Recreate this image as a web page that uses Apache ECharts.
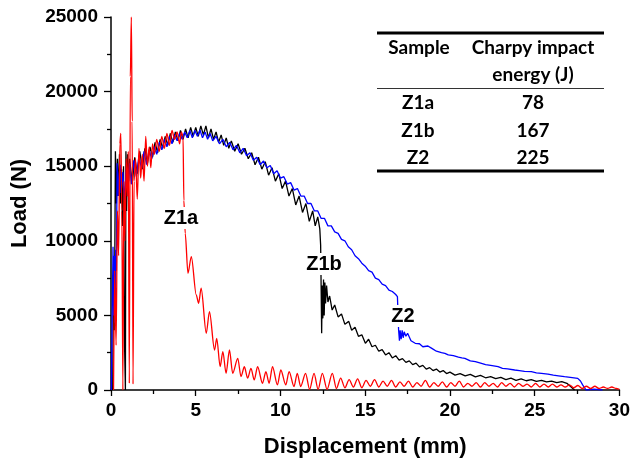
<!DOCTYPE html>
<html>
<head>
<meta charset="utf-8">
<script src="https://cdn.jsdelivr.net/npm/echarts@6/dist/echarts.min.js"></script>
<style>html,body{margin:0;padding:0;background:#fff}#c{width:633px;height:463px}</style>
</head>
<body>
<div id="c"></div>
<script>
// [displacement (mm), load (N)]
var z1aData = [[0.15,0],[0.22,8000],[0.3,3000],[0.38,12000],[0.45,9000],[0.52,16500],[0.58,17200],[0.64,12000],[0.7,0],[0.76,14000],[0.82,10000],[0.9,15500],[0.96,13000],[1.02,16000],[1.08,450],[1.14,21000],[1.2,25000],[1.25,18000],[1.3,400],[1.36,14000],[1.45,15500],[1.55,12800],[1.65,16200],[1.75,14200],[1.85,15800],[1.95,14000],[2.05,17000],[2.15,15000],[2.25,16300],[2.35,14900],[2.45,16500],[2.55,15800],[2.7,16800],[2.85,16000],[3.0,17000],[3.15,16200],[3.3,17200],[3.45,16400],[3.6,17400],[3.75,16800],[3.9,17300],[4.05,16500],[4.15,17300],[4.25,17000],[4.3,12700],[4.38,10500],[4.54,7820],[4.74,8940],[5.03,6370],[5.17,5810],[5.32,6820],[5.62,3800],[5.81,5250],[6.11,2680],[6.24,3460],[6.44,1560],[6.6,2570],[6.79,1120],[6.99,2680],[7.18,1120],[7.48,2120],[7.67,900],[7.87,1560],[8.06,790],[8.26,1450],[8.45,680],[8.65,1560],[8.94,450],[9.14,1230],[9.33,450],[9.53,1560],[9.82,340],[10.02,1340],[10.31,340],[10.51,1230],[10.8,230],[10.99,1120],[11.19,230],[11.48,1120],[11.72,50],[11.98,1120],[12.22,50],[12.47,1120],[12.75,50],[13.06,1120],[13.3,100],[13.55,800],[13.8,150],[14.05,700],[14.3,200],[14.55,750],[14.8,150],[15.05,650],[15.3,250],[15.55,700],[15.8,200],[16.05,600],[16.3,250],[16.55,650],[16.8,200],[17.05,550],[17.3,250],[17.55,600],[17.8,200],[18.05,500],[18.3,250],[18.55,650],[18.8,200],[19.05,500],[19.3,250],[19.55,550],[19.8,200],[20.05,500],[20.3,250],[20.55,600],[20.8,200],[21.05,450],[21.3,250],[21.55,500],[21.8,200],[22.05,500],[22.3,250],[22.55,450],[22.8,200],[23.05,500],[23.3,250],[23.55,450],[23.8,200],[24.05,450],[24.3,250],[24.55,400],[24.8,200],[25.05,450],[25.3,200],[25.55,400],[25.8,200],[26.05,400],[26.3,200],[26.55,350],[26.8,200],[27.05,350],[27.3,150],[27.55,300],[27.8,100],[28.05,250],[28.3,100],[28.55,250],[28.8,100],[29.05,200],[29.3,100],[29.55,200],[29.8,100],[30,50]];

var z1bData = [[0.1,0],[0.15,8000],[0.2,4000],[0.26,16000],[0.32,12500],[0.38,15500],[0.44,13000],[0.5,15800],[0.56,12500],[0.62,14800],[0.68,11000],[0.74,15000],[0.8,3000],[0.85,0],[0.88,16000],[0.92,12000],[0.98,15800],[1.04,14000],[1.1,15500],[1.25,13800],[1.4,15600],[1.55,14500],[1.7,16000],[1.85,14800],[2.0,16200],[2.15,15200],[2.3,16300],[2.45,15600],[2.6,16600],[2.75,15900],[2.9,16800],[3.05,16200],[3.2,17000],[3.35,16400],[3.5,17200],[3.65,16600],[3.8,17300],[3.95,16700],[4.1,17400],[4.25,16800],[4.4,17500],[4.55,16900],[4.7,17600],[4.85,17000],[5.0,17600],[5.15,17000],[5.3,17700],[5.45,17100],[5.6,17700],[5.75,16900],[5.9,17500],[6.05,16800],[6.2,17300],[6.35,16600],[6.5,17100],[6.65,16400],[6.8,16900],[6.95,16200],[7.1,16700],[7.3,16000],[7.5,16500],[7.7,15800],[7.9,16200],[8.1,15500],[8.3,15900],[8.5,15100],[8.7,15600],[8.9,14800],[9.1,15300],[9.3,14400],[9.5,14900],[9.7,14000],[9.9,14500],[10.1,13500],[10.3,14000],[10.5,13000],[10.7,13500],[10.9,12400],[11.1,13000],[11.3,11900],[11.5,12500],[11.7,11300],[11.9,12000],[12.05,11000],[12.2,11600],[12.32,10800],[12.37,9700],[12.43,3800],[12.46,7000],[12.5,4800],[12.54,7400],[12.58,5000],[12.62,7200],[12.66,5800],[12.72,7000],[12.8,5900],[12.9,6300],[13.05,5360],[13.2,5700],[13.4,4900],[13.6,5100],[13.8,4400],[14.03,4600],[14.2,4000],[14.4,4200],[14.6,3600],[14.8,3700],[15.01,3130],[15.2,3400],[15.4,2900],[15.6,3000],[15.8,2600],[16.0,2700],[16.2,2350],[16.4,2500],[16.6,2150],[16.8,2300],[17.0,2000],[17.2,2100],[17.4,1850],[17.6,1950],[17.8,1700],[18.0,1800],[18.2,1550],[18.4,1650],[18.6,1400],[18.8,1500],[19.0,1300],[19.2,1400],[19.4,1200],[19.6,1300],[19.8,1100],[20.0,1200],[20.3,1000],[20.6,1100],[20.9,950],[21.2,1050],[21.5,880],[21.8,980],[22.1,820],[22.4,900],[22.7,760],[23.0,850],[23.3,700],[23.6,800],[23.9,650],[24.2,750],[24.5,620],[24.8,700],[25.1,580],[25.4,650],[25.7,540],[26.0,600],[26.3,500],[26.6,560],[26.9,450],[27.1,250],[27.35,0]];

var z2Data = [[0.02,0],[0.08,6000],[0.12,9600],[0.16,5000],[0.2,9000],[0.24,4500],[0.28,9400],[0.32,8000],[0.36,15200],[0.42,13000],[0.48,14500],[0.54,15100],[0.6,13200],[0.7,14600],[0.8,12700],[0.9,14800],[1.0,13300],[1.1,15200],[1.2,13800],[1.35,15400],[1.5,14300],[1.65,15700],[1.8,14800],[1.95,16000],[2.1,15100],[2.25,16100],[2.4,15500],[2.55,16300],[2.7,15800],[2.85,16600],[3.0,16100],[3.15,16800],[3.3,16300],[3.45,17000],[3.6,16500],[3.75,17100],[3.9,16700],[4.05,17200],[4.2,16800],[4.35,17300],[4.5,16900],[4.65,17400],[4.8,16900],[4.95,17400],[5.1,17000],[5.25,17430],[5.4,16900],[5.55,17300],[5.7,16800],[5.85,17200],[6.0,16700],[6.2,17000],[6.4,16500],[6.6,16800],[6.8,16300],[7.0,16600],[7.2,16100],[7.4,16400],[7.6,15900],[7.8,16200],[8.0,15700],[8.2,15900],[8.4,15400],[8.6,15600],[8.8,15100],[9.0,15350],[9.2,14900],[9.4,15050],[9.6,14500],[9.8,14700],[10.0,14200],[10.2,14300],[10.4,13800],[10.6,13900],[10.8,13400],[11.0,13500],[11.2,13000],[11.4,13000],[11.6,12500],[11.8,12500],[12.0,12000],[12.2,12000],[12.4,11500],[12.6,11500],[12.8,11000],[13.0,11000],[13.2,10600],[13.4,10500],[13.6,10100],[13.8,10000],[14.0,9600],[14.2,9400],[14.4,9000],[14.6,8800],[14.8,8500],[15.0,8300],[15.2,8000],[15.4,7900],[15.6,7500],[15.8,7400],[16.0,7100],[16.2,7000],[16.4,6700],[16.6,6600],[16.8,6400],[16.9,6260],[16.97,4020],[17.02,3300],[17.06,4000],[17.12,3400],[17.18,4000],[17.24,3500],[17.3,3900],[17.4,3600],[17.5,3800],[17.7,3300],[17.95,3130],[18.2,3100],[18.4,2900],[18.7,2950],[18.93,2790],[19.2,2600],[19.5,2500],[19.7,2450],[19.9,2350],[20.2,2300],[20.5,2200],[20.7,2150],[20.88,2120],[21.2,1950],[21.5,1900],[21.86,1790],[22.1,1700],[22.4,1650],[22.84,1560],[23.1,1450],[23.4,1420],[23.82,1340],[24.1,1300],[24.4,1250],[24.8,1230],[25.1,1150],[25.4,1120],[25.78,1070],[26.1,1000],[26.4,950],[26.76,890],[27.1,850],[27.54,780],[27.7,600],[27.83,340],[28.03,0],[28.5,50],[29,0]];

var seriesNames = ['Z1b', 'Z2', 'Z1a'];
var tableHeader = ['Sample', 'Charpy impact', 'energy (J)'];
var tableSamples = ['Z1a', 'Z1b', 'Z2'];
var tableEnergies = ['78', '167', '225'];

var chart = echarts.init(document.getElementById('c'), null, {renderer: 'canvas'});
var axisFont = 'Liberation Sans, Arial, sans-serif';
var tabFont = 'Lato, sans-serif';

function txt(t, x, y, size, font, bg) {
  return {
    type: 'text', x: x, y: y, z: 100,
    style: {
      text: t, fontSize: size, fontWeight: 'bold', fontFamily: font,
      fill: '#000', align: 'center', verticalAlign: 'middle',
      backgroundColor: bg ? '#fff' : null, padding: bg ? [1, 2] : 0
    }
  };
}

var graphics = [
  {type: 'line', z: 100, shape: {x1: 377, y1: 33, x2: 604, y2: 33}, style: {stroke: '#000', lineWidth: 3}},
  {type: 'line', z: 100, shape: {x1: 377, y1: 88.5, x2: 604, y2: 88.5}, style: {stroke: '#333', lineWidth: 1.2}},
  {type: 'line', z: 100, shape: {x1: 377, y1: 171, x2: 604, y2: 171}, style: {stroke: '#000', lineWidth: 3}},
  txt(tableHeader[0], 419, 48, 19, tabFont),
  txt(tableHeader[1], 533, 48, 19, tabFont),
  txt(tableHeader[2], 533, 75, 19, tabFont),
  txt('Z1a', 181, 218, 20, axisFont, true),
  txt('Z1b', 324, 264, 20, axisFont, true),
  txt('Z2', 403, 316, 20, axisFont, true)
];
var rowY = [103, 131, 158];
for (var i = 0; i < tableSamples.length; i++) {
  graphics.push(txt(tableSamples[i], 418, rowY[i], 19, tabFont));
  graphics.push(txt(tableEnergies[i], 533, rowY[i], 19, tabFont));
}

function mkSeries(name, data, color, smooth) {
  return {
    name: name, type: 'line', data: data, showSymbol: false, symbol: 'none',
    smooth: smooth || false, smoothMonotone: 'x',
    lineStyle: {color: color, width: 1.3}, itemStyle: {color: color},
    animation: false, z: 2
  };
}

chart.setOption({
  animation: false,
  backgroundColor: '#fff',
  grid: {left: 111, top: 17, right: 11, bottom: 73, containLabel: false},
  xAxis: {
    type: 'value', min: 0, max: 30, interval: 5,
    name: 'Displacement (mm)', nameLocation: 'middle', nameGap: 46,
    nameTextStyle: {fontSize: 22, fontWeight: 'bold', fontFamily: axisFont, color: '#000'},
    axisLine: {show: true, onZero: false, lineStyle: {color: '#000', width: 1.5}},
    axisTick: {show: true, inside: false, length: 6, lineStyle: {color: '#000', width: 1.3}},
    minorTick: {show: true, splitNumber: 2, length: 4, lineStyle: {color: '#000', width: 1.3}},
    axisLabel: {fontSize: 19, fontWeight: 'bold', fontFamily: axisFont, color: '#000', margin: 11},
    splitLine: {show: false}
  },
  yAxis: {
    type: 'value', min: 0, max: 25000, interval: 5000,
    name: 'Load (N)', nameLocation: 'middle', nameGap: 80,
    nameTextStyle: {fontSize: 22, fontWeight: 'bold', fontFamily: axisFont, color: '#000'},
    axisLine: {show: true, lineStyle: {color: '#000', width: 1.5}},
    axisTick: {show: true, inside: false, length: 7, lineStyle: {color: '#000', width: 1.3}},
    minorTick: {show: true, splitNumber: 2, length: 4, lineStyle: {color: '#000', width: 1.3}},
    axisLabel: {fontSize: 19, fontWeight: 'bold', fontFamily: axisFont, color: '#000', margin: 13,
      formatter: function (v) { return String(v); }},
    splitLine: {show: false}
  },
  series: [
    mkSeries(seriesNames[0], z1bData, '#000000'),
    mkSeries(seriesNames[1], z2Data, '#0000ff'),
    mkSeries(seriesNames[2], z1aData, '#ff0000', 0.3)
  ],
  graphic: graphics
});
</script>
</body>
</html>
